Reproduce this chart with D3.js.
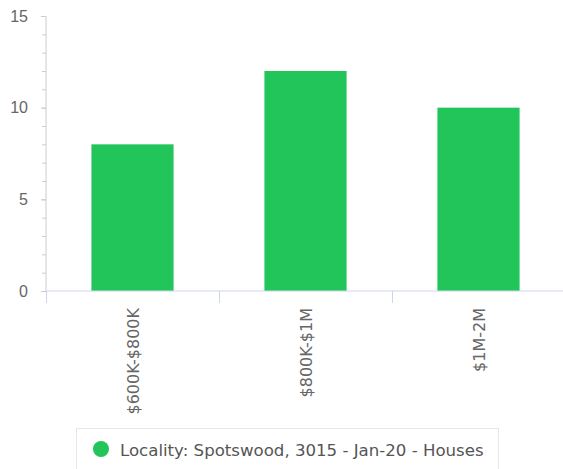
<!DOCTYPE html>
<html>
<head>
<meta charset="utf-8">
<script src="https://cdn.jsdelivr.net/npm/d3@7"></script>
<style>
  body { margin: 0; background: #fff; }
  svg { display: block; font-family: "DejaVu Sans", sans-serif; }
</style>
</head>
<body>
<div id="chart"></div>
<script>
const categories = ['$600K-$800K', '$800K-$1M', '$1M-2M'];
const values = [8, 12, 10];
const yTicks = [0, 5, 10, 15];
const seriesName = 'Locality: Spotswood, 3015 - Jan-20 - Houses';

const width = 563, height = 469;
const margin = { top: 16, right: -2, bottom: 178, left: 46 };
const innerW = width - margin.left - margin.right;
const innerH = height - margin.top - margin.bottom;

const svg = d3.select('#chart')
    .append('svg')
    .attr('width', width)
    .attr('height', height);

const g = svg.append('g')
    .attr('transform', `translate(${margin.left},${margin.top})`);

const x = d3.scaleBand()
    .domain(categories)
    .range([0, innerW])
    .paddingInner(0)
    .paddingOuter(0);

const y = d3.scaleLinear()
    .domain([0, 15])
    .range([innerH, 0]);

// Minor ticks on y axis
g.append('g')
    .call(d3.axisLeft(y).ticks(15).tickSize(4).tickFormat(''))
    .call(a => a.select('.domain').remove())
    .call(a => a.selectAll('line').attr('stroke', '#ccc'));

// Major y axis
g.append('g')
    .call(d3.axisLeft(y).tickValues(yTicks).tickSize(5).tickPadding(13))
    .call(a => a.select('.domain').attr('stroke', '#ccc').attr('d', `M0,0V${innerH}`))
    .call(a => a.selectAll('line').attr('stroke', '#ccc'))
    .call(a => a.selectAll('text')
        .attr('fill', '#666')
        .style('font-size', '16px'));

// Bars
const barW = x.bandwidth() * 0.475;
g.selectAll('.bar')
    .data(values)
    .enter().append('rect')
    .attr('class', 'bar')
    .attr('x', (d, i) => x(categories[i]) + (x.bandwidth() - barW) / 2)
    .attr('y', d => y(d))
    .attr('width', barW)
    .attr('height', d => innerH - y(d))
    .attr('fill', '#22c55a');

// X axis
const xAxis = g.append('g')
    .attr('transform', `translate(0,${innerH})`);

xAxis.append('line')
    .attr('x1', 0).attr('x2', innerW)
    .attr('stroke', '#ccd6eb');

xAxis.selectAll('.cat-tick')
    .data(categories)
    .enter().append('line')
    .attr('class', 'cat-tick')
    .attr('x1', d => Math.round(x(d)) + 0.5)
    .attr('x2', d => Math.round(x(d)) + 0.5)
    .attr('y1', 0).attr('y2', 12)
    .attr('stroke', '#ccd6eb');

xAxis.selectAll('.cat-label')
    .data(categories)
    .enter().append('text')
    .attr('class', 'cat-label')
    .attr('transform', d => `translate(${x(d) + x.bandwidth() / 2 + 6},17) rotate(-90)`)
    .attr('text-anchor', 'end')
    .attr('fill', '#666')
    .style('font-size', '16px')
    .text(d => d);

// Legend
const legend = svg.append('g');
legend.append('rect')
    .attr('x', 76.5).attr('y', 428.5)
    .attr('width', 422).attr('height', 50)
    .attr('fill', 'none')
    .attr('stroke', '#e6e6e6');
legend.append('circle')
    .attr('cx', 101).attr('cy', 449)
    .attr('r', 8)
    .attr('fill', '#22c55a');
legend.append('text')
    .attr('x', 120).attr('y', 456)
    .attr('fill', '#555')
    .style('font-size', '16.6px')
    .text(seriesName);
</script>
</body>
</html>
